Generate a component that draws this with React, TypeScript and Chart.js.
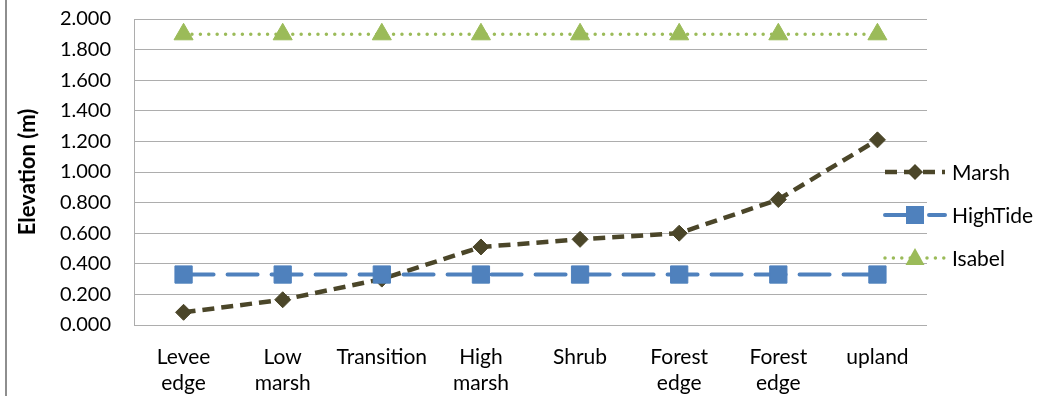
import { useEffect, useRef } from "react";
import { Chart, registerables } from "chart.js";

Chart.register(...registerables);

// Zones along the transect
const categories: (string | string[])[] = [
  ["Levee", "edge"],
  ["Low", "marsh"],
  "Transition",
  ["High", "marsh"],
  "Shrub",
  ["Forest", "edge"],
  ["Forest", "edge"],
  "upland",
];

// Elevations in metres
const marsh = [0.083, 0.165, 0.30, 0.51, 0.56, 0.60, 0.82, 1.21];
const highTide = [0.33, 0.33, 0.33, 0.33, 0.33, 0.33, 0.33, 0.33];
const isabel = [1.9, 1.9, 1.9, 1.9, 1.9, 1.9, 1.9, 1.9];

const seriesNames = ["Marsh", "HighTide", "Isabel"];
const yTitle = "Elevation (m)";

const MARSH_COLOR = "#4B4629";
const TIDE_COLOR = "#4F81BD";
const ISABEL_COLOR = "#9BBB59";
const GRID_COLOR = "#ADADAD";
const FONT = "Lato, 'Open Sans', sans-serif";

function drawMarker(ctx: CanvasRenderingContext2D, kind: string, x: number, y: number, color: string) {
  ctx.save();
  ctx.setLineDash([]);
  ctx.fillStyle = color;
  ctx.beginPath();
  if (kind === "diamond") {
    ctx.moveTo(x - 8, y);
    ctx.lineTo(x, y - 8);
    ctx.lineTo(x + 8, y);
    ctx.lineTo(x, y + 8);
  } else if (kind === "square") {
    ctx.rect(x - 9, y - 9, 18, 18);
  } else {
    ctx.moveTo(x, y - 10);
    ctx.lineTo(x + 9.5, y + 7);
    ctx.lineTo(x - 9.5, y + 7);
  }
  ctx.closePath();
  ctx.fill();
  ctx.restore();
}

// Legend on the right: line sample with a marker, then the series name
const legendPlugin = {
  id: "sideLegend",
  afterDraw(chart: Chart) {
    const ctx = chart.ctx;
    const rows = [
      { name: seriesNames[0], color: MARSH_COLOR, dash: [12, 7], width: 4.5, cap: "butt", marker: "diamond", y: 172 },
      { name: seriesNames[1], color: TIDE_COLOR, dash: [30, 14], width: 4, cap: "round", marker: "square", y: 215 },
      { name: seriesNames[2], color: ISABEL_COLOR, dash: [0, 8.4], width: 3.5, cap: "round", marker: "triangle", y: 258 },
    ];
    ctx.save();
    for (const r of rows) {
      ctx.strokeStyle = r.color;
      ctx.lineWidth = r.width;
      ctx.lineCap = r.cap as CanvasLineCap;
      ctx.setLineDash(r.dash);
      ctx.beginPath();
      ctx.moveTo(885, r.y);
      ctx.lineTo(945, r.y);
      ctx.stroke();
      drawMarker(ctx, r.marker, 915, r.y, r.color);
      ctx.fillStyle = "#000";
      ctx.font = `21px ${FONT}`;
      ctx.textBaseline = "middle";
      ctx.textAlign = "left";
      ctx.fillText(r.name, 952, r.y + 1);
    }
    ctx.restore();
  },
};

// Outer frame edge and the rotated y-axis title
const framePlugin = {
  id: "frameLine",
  beforeDraw(chart: Chart) {
    const ctx = chart.ctx;
    ctx.save();
    ctx.strokeStyle = "#8E8E8E";
    ctx.lineWidth = 2;
    ctx.beginPath();
    ctx.moveTo(6, 0);
    ctx.lineTo(6, chart.height);
    ctx.stroke();
    ctx.translate(28, 172);
    ctx.rotate(-Math.PI / 2);
    ctx.fillStyle = "#000";
    ctx.font = `bold 22px ${FONT}`;
    ctx.textAlign = "center";
    ctx.textBaseline = "middle";
    ctx.fillText(yTitle, 0, 0);
    ctx.restore();
  },
};

export default function App() {
  const canvasRef = useRef<HTMLCanvasElement | null>(null);

  useEffect(() => {
    const canvas = canvasRef.current;
    if (!canvas) return;
    const chart = new Chart(canvas, {
      type: "line",
      data: {
        labels: categories,
        datasets: [
          {
            label: seriesNames[0],
            data: marsh,
            borderColor: MARSH_COLOR,
            backgroundColor: MARSH_COLOR,
            borderWidth: 4.5,
            borderDash: [12, 7],
            pointStyle: "rectRot",
            pointRadius: 8,
            pointBorderWidth: 1,
            pointBackgroundColor: MARSH_COLOR,
            pointBorderColor: MARSH_COLOR,
            tension: 0,
            order: 2,
          },
          {
            label: seriesNames[1],
            data: highTide,
            borderColor: TIDE_COLOR,
            backgroundColor: TIDE_COLOR,
            borderWidth: 4,
            borderDash: [30, 14],
            borderCapStyle: "round",
            pointStyle: "rect",
            pointRadius: 12.2,
            pointBorderWidth: 1,
            pointBackgroundColor: TIDE_COLOR,
            pointBorderColor: TIDE_COLOR,
            tension: 0,
            order: 1,
          },
          {
            label: seriesNames[2],
            data: isabel,
            borderColor: ISABEL_COLOR,
            backgroundColor: ISABEL_COLOR,
            borderWidth: 3.5,
            borderDash: [0, 8.4],
            borderCapStyle: "round",
            pointStyle: "triangle",
            pointRadius: 11,
            pointBorderWidth: 1,
            pointBackgroundColor: ISABEL_COLOR,
            pointBorderColor: ISABEL_COLOR,
            tension: 0,
            order: 0,
          },
        ],
      },
      options: {
        responsive: false,
        animation: false,
        layout: { autoPadding: false, padding: { left: 0, top: 19, right: 111, bottom: 0 } },
        plugins: {
          legend: { display: false },
          tooltip: { enabled: false },
          title: { display: false },
        },
        scales: {
          x: {
            type: "category",
            offset: true,
            grid: { display: false, drawTicks: false },
            border: { display: false },
            ticks: {
              color: "#000",
              font: { family: FONT, size: 21, lineHeight: 1.24 },
              padding: 19,
              maxRotation: 0,
              autoSkip: false,
            },
            afterFit(scale: any) {
              scale.height = 71;
              scale.paddingTop = 0;
              scale.paddingBottom = 0;
            },
          },
          y: {
            min: 0,
            max: 2,
            grid: { color: GRID_COLOR, lineWidth: 1, drawTicks: false },
            border: { display: true, color: GRID_COLOR, width: 1 },
            ticks: {
              stepSize: 0.2,
              color: "#000",
              padding: 23,
              font: { family: FONT, size: 20 },
              callback: (v: any) => Number(v).toFixed(3),
            },
            afterFit(scale: any) {
              scale.width = 134;
              scale.paddingTop = 0;
              scale.paddingBottom = 0;
            },
          },
        },
      },
      plugins: [framePlugin, legendPlugin],
    });
    return () => chart.destroy();
  }, []);

  return (
    <div style={{ position: "fixed", left: 0, top: 0, width: 1038, height: 396, background: "#fff" }}>
      <canvas ref={canvasRef} width={1038} height={396} />
    </div>
  );
}
